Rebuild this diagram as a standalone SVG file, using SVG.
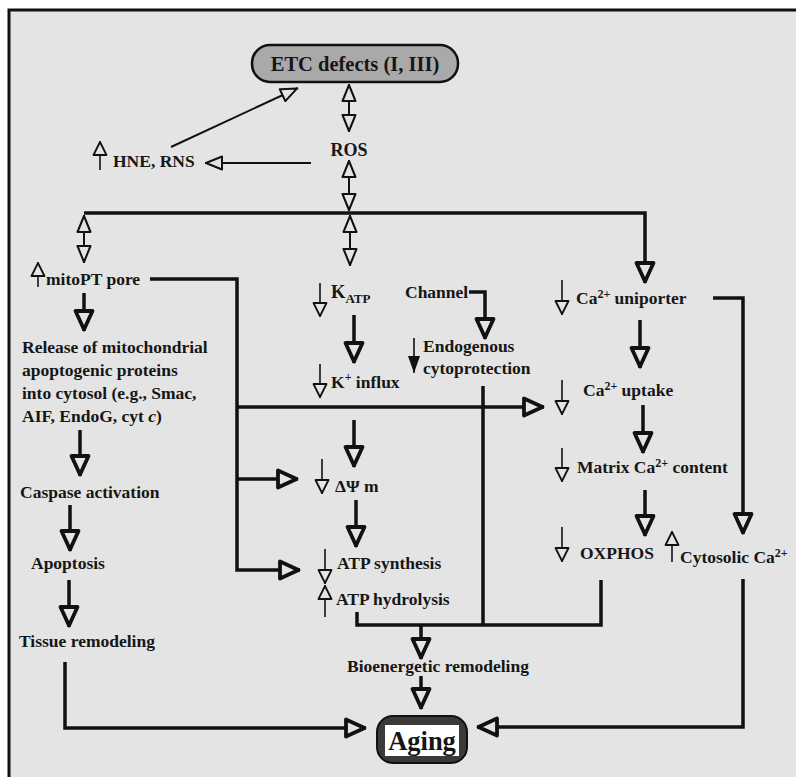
<svg xmlns="http://www.w3.org/2000/svg" width="796" height="777" viewBox="0 0 796 777">
<defs>
<style>
text{font-family:"Liberation Serif","Times New Roman",serif;font-weight:bold;font-size:17.5px;fill:#161616}
.ln{fill:none;stroke:#111;stroke-width:3.5}
.tn{fill:none;stroke:#111;stroke-width:2}
.sm{fill:none;stroke:#111;stroke-width:1.6}
.big{marker-end:url(#big)}
.thin2{marker-start:url(#thin);marker-end:url(#thin)}
.thin1{marker-end:url(#thin)}
.smA{marker-end:url(#small)}
</style>
<marker id="big" markerUnits="userSpaceOnUse" viewBox="-26 -13 30 26" refX="0" refY="0" markerWidth="30" markerHeight="26" orient="auto">
<path d="M-20,-8.5 L-1.5,0 L-20,8.5 Z" fill="#e4e4e4" stroke="#111" stroke-width="3.8" stroke-linejoin="round"/>
</marker>
<marker id="thin" markerUnits="userSpaceOnUse" viewBox="-20 -9 22 18" refX="0" refY="0" markerWidth="22" markerHeight="18" orient="auto-start-reverse">
<path d="M-17,-6.5 L-1,0 L-17,6.5 Z" fill="#e4e4e4" stroke="#111" stroke-width="2" stroke-linejoin="round"/>
</marker>
<marker id="small" markerUnits="userSpaceOnUse" viewBox="-16 -8 18 16" refX="0" refY="0" markerWidth="18" markerHeight="16" orient="auto">
<path d="M-14,-6.5 L-1,0 L-14,6.5 Z" fill="#e4e4e4" stroke="#111" stroke-width="1.8" stroke-linejoin="round"/>
</marker>
<marker id="filled" markerUnits="userSpaceOnUse" viewBox="-18 -8 20 16" refX="0" refY="0" markerWidth="20" markerHeight="16" orient="auto">
<path d="M-17,-6 L0,0 L-17,6 Z" fill="#111"/>
</marker>
</defs>
<rect x="0" y="0" width="796" height="777" fill="#ffffff"/>
<rect x="9" y="10" width="800" height="780" fill="#e4e4e4" stroke="#111" stroke-width="3"/>

<g id="connectors">
<line class="tn thin1" x1="171" y1="147" x2="298" y2="88"/>
<line class="tn thin2" x1="349" y1="84" x2="349" y2="132"/>
<line class="tn thin1" x1="311" y1="163" x2="205" y2="163"/>
<line class="tn thin2" x1="349" y1="160" x2="349" y2="211"/>
<path class="ln big" d="M84,213 H645 V283"/>
<line class="tn thin2" x1="350" y1="215" x2="350" y2="266"/>
<line class="tn thin2" x1="84" y1="215" x2="84" y2="263"/>
<line class="ln big" x1="84" y1="293" x2="84" y2="331"/>
<path class="ln big" d="M150,279 H237 V570 H300"/>
<line class="ln big" x1="237" y1="479" x2="298" y2="479"/>
<line class="ln big" x1="237" y1="407" x2="544" y2="407"/>
<line class="ln big" x1="80" y1="430" x2="80" y2="476"/>
<line class="ln big" x1="70" y1="505" x2="70" y2="551"/>
<line class="ln big" x1="69" y1="580" x2="69" y2="627"/>
<path class="ln big" d="M65,662 V728 H366"/>
<line class="ln big" x1="354" y1="315" x2="354" y2="363"/>
<line class="ln big" x1="354" y1="420" x2="354" y2="467"/>
<line class="ln big" x1="356" y1="500" x2="356" y2="547"/>
<path class="ln big" d="M469,292 H485 V339"/>
<line class="ln" x1="483" y1="386" x2="483" y2="625"/>
<path class="ln" d="M357,612 V625 H601 V580"/>
<line class="ln big" x1="421" y1="625" x2="421" y2="659"/>
<line class="ln big" x1="421" y1="676" x2="421" y2="709"/>
<line class="ln big" x1="640" y1="320" x2="640" y2="368"/>
<line class="ln big" x1="643" y1="405" x2="643" y2="453"/>
<line class="ln big" x1="645" y1="490" x2="645" y2="536"/>
<path class="ln big" d="M713,298 H743 V534"/>
<path class="ln big" d="M743,579 V727 H477"/>
</g>

<g id="etc">
<rect x="252" y="45" width="206" height="37" rx="18" fill="#a9a9a9" stroke="#111" stroke-width="2.5"/>
<text x="355" y="71" text-anchor="middle" style="font-size:20.5px">ETC defects (I, III)</text>
</g>
<g id="ros"><text x="349" y="156" text-anchor="middle" style="font-size:18px">ROS</text></g>
<g id="hne">
<line class="sm smA" x1="100" y1="170" x2="100" y2="141"/>
<text x="113" y="167">HNE, RNS</text>
</g>
<g id="mitopt">
<line class="sm smA" x1="38" y1="287" x2="38" y2="262"/>
<text x="46" y="285">mitoPT pore</text>
</g>
<g id="release">
<text x="22" y="353">Release of mitochondrial</text>
<text x="22" y="376">apoptogenic proteins</text>
<text x="22" y="399">into cytosol (e.g., Smac,</text>
<text x="22" y="422">AIF, EndoG, cyt <tspan font-style="italic">c</tspan>)</text>
</g>
<g id="caspase"><text x="20" y="498">Caspase activation</text></g>
<g id="apoptosis"><text x="31" y="569">Apoptosis</text></g>
<g id="tissue"><text x="19" y="647">Tissue remodeling</text></g>
<g id="katp">
<line class="sm smA" x1="320" y1="283" x2="320" y2="317"/>
<text x="331" y="298" style="font-size:18.5px">K<tspan dy="5" style="font-size:13px">ATP</tspan></text>
</g>
<g id="kinflux">
<line class="sm smA" x1="320" y1="364" x2="320" y2="398"/>
<text x="331" y="388">K<tspan dy="-7" style="font-size:12px">+</tspan><tspan dy="7"> influx</tspan></text>
</g>
<g id="channel"><text x="405" y="298">Channel</text></g>
<g id="endo">
<line x1="414" y1="338" x2="414" y2="373" stroke="#111" stroke-width="1.6" marker-end="url(#filled)"/>
<text x="423" y="352">Endogenous</text>
<text x="423" y="374">cytoprotection</text>
</g>
<g id="dpsi">
<line class="sm smA" x1="322" y1="459" x2="322" y2="494"/>
<text x="335" y="492">ΔΨ m</text>
</g>
<g id="atpsyn">
<line class="sm smA" x1="325" y1="549" x2="325" y2="584"/>
<text x="337" y="569">ATP synthesis</text>
</g>
<g id="atphyd">
<line class="sm smA" x1="325" y1="617" x2="325" y2="585"/>
<text x="336" y="605">ATP hydrolysis</text>
</g>
<g id="ca_uni">
<line class="sm smA" x1="562" y1="280" x2="562" y2="315"/>
<text x="576" y="304">Ca<tspan dy="-6" style="font-size:12px">2+</tspan><tspan dy="6"> uniporter</tspan></text>
</g>
<g id="ca_up">
<line class="sm smA" x1="562" y1="380" x2="562" y2="415"/>
<text x="583" y="396">Ca<tspan dy="-6" style="font-size:12px">2+</tspan><tspan dy="6">  uptake</tspan></text>
</g>
<g id="matrix">
<line class="sm smA" x1="562" y1="448" x2="562" y2="482"/>
<text x="577" y="473">Matrix Ca<tspan dy="-6" style="font-size:12px">2+</tspan><tspan dy="6"> content</tspan></text>
</g>
<g id="oxphos">
<line class="sm smA" x1="562" y1="527" x2="562" y2="562"/>
<text x="580" y="559">OXPHOS</text>
</g>
<g id="cyto">
<line class="sm smA" x1="672" y1="562" x2="672" y2="531"/>
<text x="680" y="563">Cytosolic Ca<tspan dy="-6" style="font-size:12px">2+</tspan></text>
</g>
<g id="bio"><text x="438" y="672" text-anchor="middle">Bioenergetic remodeling</text></g>
<g id="aging">
<rect x="377" y="716" width="90" height="47" rx="16" fill="#3a3a3a" stroke="#111" stroke-width="2"/>
<rect x="385" y="725" width="74" height="31" fill="#ffffff"/>
<text x="422" y="750" text-anchor="middle" style="font-size:26.5px">Aging</text>
</g>
</svg>
